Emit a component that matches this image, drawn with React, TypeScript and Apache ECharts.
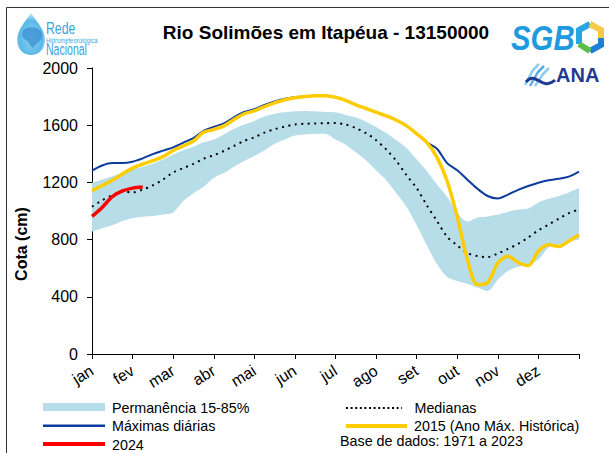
import React, { useEffect, useRef } from "react";
import * as echarts from "echarts";

const MONTHS = ["jan", "fev", "mar", "abr", "mai", "jun", "jul", "ago", "set", "out", "nov", "dez"];
const Y_MIN = 0;
const Y_MAX = 2000;
const Y_STEP = 400;

// one sample every quarter of a month, from 1 jan (0) to 31 dez (12)
const SAMPLES_PER_MONTH = 4;
const POSITIONS = Array.from({ length: 12 * SAMPLES_PER_MONTH + 1 }, (_, i) => String(i / SAMPLES_PER_MONTH));

// Permanência 85% (lower edge of band)
const PERM_85 = [
  857, 880, 900, 930, 950, 960, 965, 975, 990, 1070, 1125, 1170,
  1231, 1265, 1310, 1350, 1385, 1425, 1470, 1500, 1528, 1535, 1540, 1541,
  1500, 1464, 1410, 1355, 1285, 1215, 1125, 1030, 900, 760, 630, 540,
  510, 490, 465, 440, 520, 580, 610, 625, 660, 745, 765, 785, 800,
];
// Permanência 15% (upper edge of band)
const PERM_15 = [
  1198, 1220, 1243, 1270, 1292, 1310, 1330, 1360, 1395, 1425, 1450, 1480,
  1500, 1535, 1575, 1605, 1630, 1660, 1680, 1690, 1697, 1700, 1697, 1692,
  1690, 1672, 1655, 1625, 1588, 1545, 1495, 1440, 1360, 1280, 1185, 1100,
  990, 927, 955, 962, 975, 995, 1010, 1018, 1060, 1085, 1105, 1130, 1160,
];
const MEDIANAS = [
  1030, 1075, 1110, 1135, 1130, 1150, 1180, 1220, 1270, 1300, 1330, 1365,
  1390, 1420, 1455, 1490, 1515, 1548, 1572, 1590, 1605, 1610, 1612, 1614,
  1615, 1605, 1580, 1545, 1495, 1430, 1350, 1250, 1160, 1040, 930, 820,
  760, 705, 685, 678, 703, 735, 770, 815, 865, 905, 945, 985, 1010,
];
const MAXIMAS = [
  1282, 1318, 1335, 1335, 1345, 1368, 1398, 1422, 1445, 1478, 1510, 1560,
  1588, 1612, 1655, 1692, 1712, 1742, 1766, 1785, 1795, 1800, 1806, 1806,
  1795, 1774, 1742, 1717, 1691, 1665, 1635, 1595, 1540, 1480, 1435, 1335,
  1285, 1219, 1155, 1105, 1088, 1115, 1148, 1175, 1198, 1215, 1225, 1240, 1275,
];
const ANO_2015 = [
  1142, 1178, 1215, 1258, 1300, 1328, 1352, 1380, 1423, 1455, 1490, 1550,
  1570, 1595, 1640, 1680, 1700, 1730, 1756, 1778, 1792, 1800, 1806, 1806,
  1795, 1774, 1742, 1717, 1691, 1665, 1635, 1595, 1540, 1480, 1375, 1210,
  960, 660, 485, 500, 636, 683, 640, 618, 720, 764, 752, 790, 834,
];
const ANO_2024 = [962, 1025, 1100, 1140, 1160, 1168];

const FONT = "'Liberation Sans', Arial, sans-serif";
const BAND = "#B7DEE8";
const BLUE = "#0B3B9E";
const YELLOW = "#FFCC00";
const RED = "#FF0000";

echarts.graphic.registerShape(
  "dropLogo",
  echarts.graphic.extendPath(
    "M0 -21 C6 -12 14 -4 14 6 C14 16 7 21 0 21 C-7 21 -14 16 -14 6 C-14 -4 -6 -12 0 -21 Z",
    {}
  )
);
echarts.graphic.registerShape(
  "mapLogo",
  echarts.graphic.extendPath(
    "M-9 -4 C-5 -9 2 -8 6 -6 C10 -4 11 0 9 4 C7 8 3 9 1 13 C-2 11 -3 7 -6 5 C-9 3 -11 0 -9 -4 Z",
    {}
  )
);

export default function App() {
  const ref = useRef<HTMLDivElement>(null);

  useEffect(() => {
    if (!ref.current) return;
    const chart = echarts.init(ref.current, null, { renderer: "svg" });
    const diff = PERM_15.map((v, i) => v - PERM_85[i]);
    const legendText = (text: string, x: number, y: number) => ({
      type: "text",
      x,
      y,
      style: { text, fill: "#000", fontSize: 14.3, fontFamily: FONT, align: "left", verticalAlign: "middle" },
    });
    const option: any = {
      animation: false,
      textStyle: { fontFamily: FONT },
      grid: { left: 92, right: 30, top: 68, bottom: 99, containLabel: false },
      xAxis: {
        type: "category",
        data: POSITIONS,
        boundaryGap: false,
        axisLine: { lineStyle: { color: "#000", width: 1 } },
        axisTick: { show: true, interval: SAMPLES_PER_MONTH - 1, length: 5, lineStyle: { color: "#000" } },
        axisLabel: {
          interval: SAMPLES_PER_MONTH - 1,
          rotate: 32,
          margin: 15,
          fontSize: 16,
          color: "#000",
          fontFamily: FONT,
          formatter: (_v: string, idx: number) => MONTHS[idx / SAMPLES_PER_MONTH] ?? "",
        },
        splitLine: { show: false },
      },
      yAxis: {
        type: "value",
        min: Y_MIN,
        max: Y_MAX,
        interval: Y_STEP,
        axisLine: { show: true, lineStyle: { color: "#000", width: 1 } },
        axisTick: { show: true, length: 5, lineStyle: { color: "#000" } },
        axisLabel: {
          fontSize: 16,
          color: "#000",
          margin: 14,
          fontFamily: FONT,
          formatter: (v: number) => String(v),
        },
        splitLine: { show: false },
      },
      series: [
        {
          name: "perm85",
          type: "line",
          data: PERM_85,
          stack: "perm",
          symbol: "none",
          smooth: 0.3,
          lineStyle: { width: 0, opacity: 0 },
          silent: true,
        },
        {
          name: "Permanência 15-85%",
          type: "line",
          data: diff,
          stack: "perm",
          symbol: "none",
          smooth: 0.3,
          lineStyle: { width: 0, opacity: 0 },
          areaStyle: { color: BAND, opacity: 1 },
          silent: true,
        },
        {
          name: "Medianas",
          type: "line",
          data: MEDIANAS,
          symbol: "none",
          smooth: 0.3,
          lineStyle: { color: "#000", width: 2, type: [2, 4.5] },
        },
        {
          name: "Máximas diárias",
          type: "line",
          data: MAXIMAS,
          symbol: "none",
          smooth: 0.3,
          lineStyle: { color: BLUE, width: 2 },
        },
        {
          name: "2015 (Ano Máx. Histórica)",
          type: "line",
          data: ANO_2015,
          symbol: "none",
          smooth: 0.3,
          lineStyle: { color: YELLOW, width: 3.5 },
        },
        {
          name: "2024",
          type: "line",
          data: ANO_2024,
          symbol: "none",
          smooth: 0.3,
          lineStyle: { color: RED, width: 3.5 },
        },
      ],
      graphic: [
        // frame
        {
          type: "rect",
          shape: { x: 6.5, y: 7.5, width: 700, height: 700 },
          style: { fill: "none", stroke: "#333", lineWidth: 1 },
          silent: true,
        },
        // title
        {
          type: "text",
          x: 326,
          y: 32,
          style: {
            text: "Rio Solimões em Itapéua - 13150000",
            fill: "#000",
            fontSize: 19,
            fontWeight: "bold",
            fontFamily: FONT,
            align: "center",
            verticalAlign: "middle",
          },
        },
        // y axis title
        {
          type: "text",
          x: 21,
          y: 244,
          rotation: Math.PI / 2,
          style: {
            text: "Cota (cm)",
            fill: "#000",
            fontSize: 16,
            fontWeight: "bold",
            fontFamily: FONT,
            align: "center",
            verticalAlign: "middle",
          },
        },
        // Rede Hidrometeorológica Nacional logo
        {
          type: "dropLogo",
          x: 31,
          y: 34,
          style: {
            fill: new echarts.graphic.RadialGradient(0.5, 0.6, 0.6, [
              { offset: 0, color: "#8fd0f2" },
              { offset: 0.7, color: "#5bb8e8" },
              { offset: 1, color: "#cbe9f8" },
            ]),
          },
        },
        {
          type: "mapLogo",
          x: 32,
          y: 35,
          style: { fill: "#3b8fcf", opacity: 0.75 },
        },
        {
          type: "text",
          x: 46,
          y: 28,
          scaleX: 0.72,
          style: { text: "Rede", fill: "#3aa2dc", fontSize: 17, fontFamily: FONT, align: "left", verticalAlign: "middle" },
        },
        {
          type: "text",
          x: 46,
          y: 40,
          scaleX: 0.85,
          style: { text: "Hidrometeorológica", fill: "#3aa9e2", fontSize: 7, fontFamily: FONT, align: "left", verticalAlign: "middle" },
        },
        {
          type: "text",
          x: 46,
          y: 48.5,
          scaleX: 0.62,
          style: { text: "Nacional", fill: "#3aa2dc", fontSize: 17, fontFamily: FONT, align: "left", verticalAlign: "middle" },
        },
        // SGB logo
        {
          type: "text",
          x: 511,
          y: 38,
          scaleX: 0.84,
          style: {
            text: "SGB",
            fill: "#1f9ae0",
            fontSize: 35,
            fontWeight: "bold",
            fontStyle: "italic",
            fontFamily: FONT,
            align: "left",
            verticalAlign: "middle",
          },
        },
        {
          type: "polyline",
          shape: { points: [[579, 44], [579, 30], [590, 24]] },
          style: { stroke: "#2aa5e4", lineWidth: 6, fill: "none" },
        },
        {
          type: "polyline",
          shape: { points: [[590, 24], [601, 30], [601, 38]] },
          style: { stroke: "#f7c948", lineWidth: 6, fill: "none" },
        },
        {
          type: "polyline",
          shape: { points: [[601, 38], [601, 45], [590, 51]] },
          style: { stroke: "#1e7fd6", lineWidth: 6, fill: "none" },
        },
        {
          type: "polyline",
          shape: { points: [[590, 51], [579, 44]] },
          style: { stroke: "#5cbf4a", lineWidth: 6, fill: "none" },
        },
        // ANA logo
        {
          type: "polyline",
          shape: { points: [[525, 85], [533, 70], [539, 64]] },
          style: { stroke: "#8ccbef", lineWidth: 2.5, fill: "none" },
        },
        {
          type: "polyline",
          shape: { points: [[530, 86], [538, 72], [544, 66]] },
          style: { stroke: "#5aa9e0", lineWidth: 2.5, fill: "none" },
        },
        {
          type: "polyline",
          shape: { points: [[535, 86], [543, 74], [549, 68]] },
          style: { stroke: "#8ccbef", lineWidth: 2.5, fill: "none" },
        },
        {
          type: "bezierCurve",
          shape: { x1: 526, y1: 82, x2: 555, y2: 80, cpx1: 536, cpy1: 70, cpx2: 542, cpy2: 92 },
          style: { stroke: "#1f3a8f", lineWidth: 3, fill: "none" },
        },
        {
          type: "text",
          x: 556,
          y: 75,
          style: {
            text: "ANA",
            fill: "#1f3a8f",
            fontSize: 20,
            fontWeight: "bold",
            fontFamily: FONT,
            align: "left",
            verticalAlign: "middle",
          },
        },
        // legend
        { type: "rect", shape: { x: 43, y: 403, width: 62, height: 8 }, style: { fill: BAND } },
        legendText("Permanência 15-85%", 112, 407.5),
        { type: "line", shape: { x1: 43, y1: 425.7, x2: 105, y2: 425.7 }, style: { stroke: BLUE, lineWidth: 2.5 } },
        legendText("Máximas diárias", 112, 425.7),
        { type: "line", shape: { x1: 43, y1: 444, x2: 105, y2: 444 }, style: { stroke: RED, lineWidth: 4 } },
        legendText("2024", 112, 445),
        {
          type: "line",
          shape: { x1: 346, y1: 408, x2: 402, y2: 408 },
          style: { stroke: "#000", lineWidth: 2, lineDash: [2, 2.6] },
        },
        legendText("Medianas", 414.5, 407.5),
        { type: "line", shape: { x1: 346, y1: 426, x2: 407, y2: 426 }, style: { stroke: YELLOW, lineWidth: 4 } },
        legendText("2015 (Ano Máx. Histórica)", 414, 426),
        legendText("Base de dados: 1971 a 2023", 340, 441),
      ],
    };
    chart.setOption(option);
    return () => chart.dispose();
  }, []);

  return (
    <div
      ref={ref}
      style={{ position: "absolute", left: 0, top: 0, width: 609, height: 453, background: "#fff" }}
    />
  );
}
